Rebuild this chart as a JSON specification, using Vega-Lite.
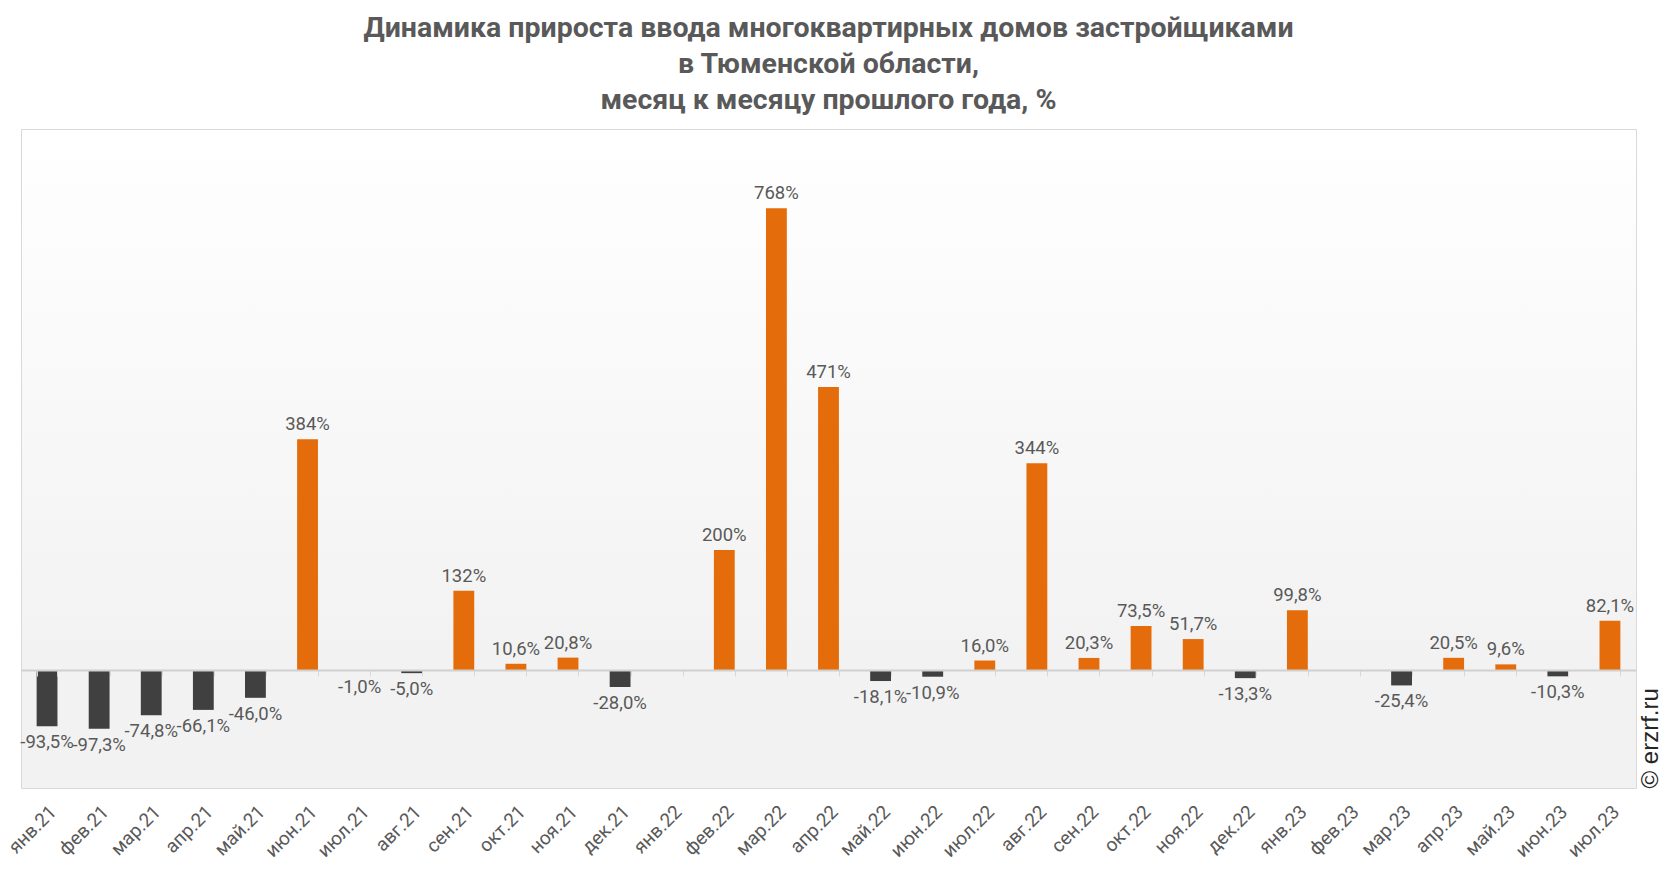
{
  "$schema": "https://vega.github.io/schema/vega-lite/v6.json",
  "autosize": {"type": "none"},
  "padding": {"left": 21, "top": 129, "right": 30, "bottom": 84},
  "width": 1615,
  "height": 659,
  "background": "#ffffff",
  "title": {
    "text": ["Динамика прироста ввода многоквартирных домов застройщиками", "в Тюменской области,", "месяц к месяцу прошлого года, %"],
    "anchor": "middle",
    "font": "Roboto",
    "fontSize": 28.5,
    "fontWeight": "bold",
    "color": "#595959",
    "lineHeight": 36,
    "offset": 15
  },
  "config": {
    "view": {
      "fill": {"gradient": "linear", "x1": 0, "y1": 0, "x2": 0, "y2": 1, "stops": [{"offset": 0, "color": "#ffffff"}, {"offset": 0.8, "color": "#f2f2f2"}, {"offset": 1, "color": "#f2f2f2"}]},
      "stroke": "#d9d9d9",
      "strokeWidth": 1
    },
    "font": "Roboto"
  },
  "data": {
    "values": [
      {"m": "янв.21", "v": -93.5, "label": "-93,5%"},
      {"m": "фев.21", "v": -97.3, "label": "-97,3%"},
      {"m": "мар.21", "v": -74.8, "label": "-74,8%"},
      {"m": "апр.21", "v": -66.1, "label": "-66,1%"},
      {"m": "май.21", "v": -46.0, "label": "-46,0%"},
      {"m": "июн.21", "v": 384, "label": "384%"},
      {"m": "июл.21", "v": -1.0, "label": "-1,0%"},
      {"m": "авг.21", "v": -5.0, "label": "-5,0%"},
      {"m": "сен.21", "v": 132, "label": "132%"},
      {"m": "окт.21", "v": 10.6, "label": "10,6%"},
      {"m": "ноя.21", "v": 20.8, "label": "20,8%"},
      {"m": "дек.21", "v": -28.0, "label": "-28,0%"},
      {"m": "янв.22", "v": null, "label": ""},
      {"m": "фев.22", "v": 200, "label": "200%"},
      {"m": "мар.22", "v": 768, "label": "768%"},
      {"m": "апр.22", "v": 471, "label": "471%"},
      {"m": "май.22", "v": -18.1, "label": "-18,1%"},
      {"m": "июн.22", "v": -10.9, "label": "-10,9%"},
      {"m": "июл.22", "v": 16.0, "label": "16,0%"},
      {"m": "авг.22", "v": 344, "label": "344%"},
      {"m": "сен.22", "v": 20.3, "label": "20,3%"},
      {"m": "окт.22", "v": 73.5, "label": "73,5%"},
      {"m": "ноя.22", "v": 51.7, "label": "51,7%"},
      {"m": "дек.22", "v": -13.3, "label": "-13,3%"},
      {"m": "янв.23", "v": 99.8, "label": "99,8%"},
      {"m": "фев.23", "v": null, "label": ""},
      {"m": "мар.23", "v": -25.4, "label": "-25,4%"},
      {"m": "апр.23", "v": 20.5, "label": "20,5%"},
      {"m": "май.23", "v": 9.6, "label": "9,6%"},
      {"m": "июн.23", "v": -10.3, "label": "-10,3%"},
      {"m": "июл.23", "v": 82.1, "label": "82,1%"}
    ]
  },
  "encoding": {
    "x": {
      "field": "m",
      "type": "nominal",
      "sort": null,
      "scale": {
        "domain": ["янв.21", "фев.21", "мар.21", "апр.21", "май.21", "июн.21", "июл.21", "авг.21", "сен.21", "окт.21", "ноя.21", "дек.21", "янв.22", "фев.22", "мар.22", "апр.22", "май.22", "июн.22", "июл.22", "авг.22", "сен.22", "окт.22", "ноя.22", "дек.22", "янв.23", "фев.23", "мар.23", "апр.23", "май.23", "июн.23", "июл.23"],
        "paddingInner": 0.6,
        "paddingOuter": 0.3
      }
    },
    "y": {
      "field": "v",
      "type": "quantitative",
      "scale": {"domain": [-196, 900], "nice": false, "zero": true}
    }
  },
  "layer": [
    {
      "mark": {"type": "bar"},
      "encoding": {
        "x": {
          "field": "m", "type": "nominal", "sort": null,
          "axis": {"orient": "bottom", "offset": -118, "labels": false, "title": null, "domainColor": "#d0d0d0", "domainWidth": 2, "ticks": true, "tickBand": "extent", "tickColor": "#d9d9d9", "tickSize": 6, "tickWidth": 1, "grid": false, "zindex": 1}
        },
        "y": {
          "field": "v", "type": "quantitative",
          "axis": {"orient": "right", "labels": false, "ticks": false, "domain": false, "grid": false, "title": "© erzrf.ru", "titleAngle": 270, "titleAnchor": "start", "titleFont": "Arial", "titleFontSize": 24, "titleFontWeight": "normal", "titleColor": "#262626", "titlePadding": 14, "titleBaseline": "middle"}
        },
        "color": {"condition": {"test": "datum.v < 0", "value": "#404040"}, "value": "#E46C0A"}
      }
    },
    {
      "transform": [{"filter": "datum.v >= 0"}],
      "mark": {"type": "text", "baseline": "alphabetic", "dy": -9, "fontSize": 18.5, "color": "#595959"},
      "encoding": {
        "x": {
          "field": "m", "type": "nominal", "sort": null,
          "axis": {"orient": "bottom", "labelAngle": -45, "labelFontSize": 19, "labelColor": "#595959", "labelPadding": 14, "domain": false, "ticks": false, "title": null, "grid": false}
        },
        "text": {"field": "label"}
      }
    },
    {
      "transform": [{"filter": "datum.v < 0"}],
      "mark": {"type": "text", "baseline": "top", "dy": 7, "fontSize": 18.5, "color": "#595959"},
      "encoding": {
        "x": {"field": "m", "type": "nominal", "sort": null, "axis": null},
        "text": {"field": "label"}
      }
    }
  ],
  "resolve": {"axis": {"x": "independent"}}
}
